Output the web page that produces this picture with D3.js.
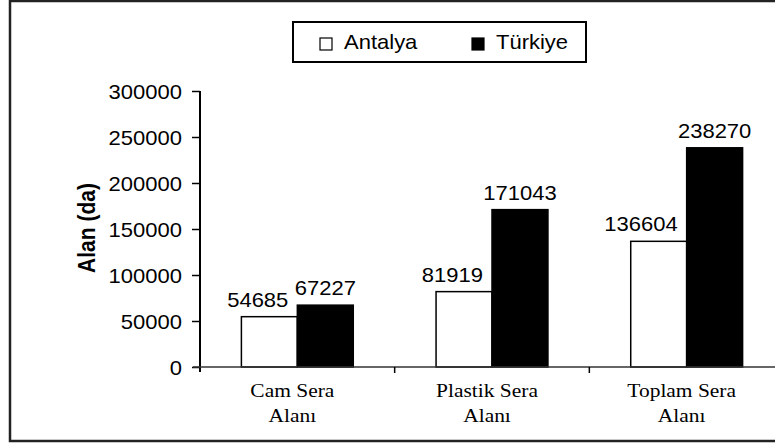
<!DOCTYPE html>
<html><head><meta charset="utf-8">
<script src="https://cdn.jsdelivr.net/npm/d3@7"></script>
<style>html,body{margin:0;padding:0;background:#fff;}svg{display:block;}</style>
</head><body>
<script>
const categories = [["Cam Sera","Alanı"],["Plastik Sera","Alanı"],["Toplam Sera","Alanı"]];
const seriesNames = ["Antalya","Türkiye"];
const antalya = [54685, 81919, 136604];
const turkiye = [67227, 171043, 238270];
const yTicks = [0, 50000, 100000, 150000, 200000, 250000, 300000];
const yTitle = "Alan (da)";

const W = 775, H = 446, SX = 1.1;
const svg = d3.select("body").append("svg").attr("width", W).attr("height", H);

// outer frame
svg.append("rect").attr("x", 10).attr("y", 1).attr("width", 820).attr("height", 440)
  .attr("fill", "#fff").attr("stroke", "#222").attr("stroke-width", 2.5);

const catKeys = categories.map(c => c.join(" "));
const x = d3.scaleBand().domain(catKeys).range([200, 784]).paddingInner(0).paddingOuter(0);
const bw = x.bandwidth();
const x1 = d3.scaleBand().domain(seriesNames).range([0, bw]).paddingInner(0).paddingOuter(0.74);
const y = d3.scaleLinear().domain([0, 300000]).range([367, 91]);

function stext(g, px, py, str, o = {}) {
  return g.append("text")
    .attr("transform", `translate(${px},${py}) scale(${SX},1)`)
    .attr("text-anchor", o.anchor || "start")
    .attr("font-family", o.family || "Arial, 'Liberation Sans', sans-serif")
    .attr("font-size", o.size || 20)
    .attr("font-weight", o.weight || "normal")
    .attr("fill", "#000")
    .text(str);
}

// bars
const data = catKeys.map((k, i) => ({ k, vals: [antalya[i], turkiye[i]] }));
const gBars = svg.append("g");
data.forEach(d => {
  d.vals.forEach((v, j) => {
    const s = seriesNames[j];
    gBars.append("rect")
      .attr("x", x(d.k) + x1(s)).attr("y", y(v))
      .attr("width", x1.bandwidth()).attr("height", y(0) - y(v))
      .attr("fill", j === 0 ? "#fff" : "#000")
      .attr("stroke", "#000").attr("stroke-width", 1.5);
  });
});

// y axis
const yAxis = svg.append("g").attr("transform", "translate(200,0)")
  .call(d3.axisLeft(y).tickValues(yTicks).tickSize(8).tickFormat(d3.format("d")));
yAxis.select(".domain").attr("stroke", "#000").attr("stroke-width", 2)
  .attr("d", `M0,${y(300000)}V${y(0) + 5}`);
yAxis.selectAll(".tick line").attr("stroke", "#000").attr("stroke-width", 1.5);
yAxis.selectAll(".tick text")
  .attr("x", -18 / SX).attr("dy", "0.35em")
  .attr("transform", `scale(${SX},1)`)
  .attr("font-family", "Arial, 'Liberation Sans', sans-serif")
  .attr("font-size", 20).attr("fill", "#000");

// x axis
svg.append("line").attr("x1", 193).attr("x2", 775).attr("y1", y(0)).attr("y2", y(0))
  .attr("stroke", "#333").attr("stroke-width", 1.5);
catKeys.forEach((k, i) => {
  if (i > 0) {
    svg.append("line").attr("x1", x(k)).attr("x2", x(k)).attr("y1", y(0)).attr("y2", y(0) + 6)
      .attr("stroke", "#000").attr("stroke-width", 1.5);
  }
  const cx = x(k) + bw / 2 - 5;
  categories[i].forEach((line, li) => {
    stext(svg, cx, 397 + li * 25, line, { anchor: "middle", family: "'Liberation Serif', 'Times New Roman', serif", size: 19.5 });
  });
});

// y title
svg.append("text")
  .attr("transform", `translate(95,228) scale(${SX},1) rotate(-90)`)
  .attr("text-anchor", "middle")
  .attr("font-family", "Arial, 'Liberation Sans', sans-serif")
  .attr("font-size", 21).attr("font-weight", "bold").text(yTitle);

// value labels
data.forEach(d => {
  const v0 = d.vals[0], v1 = d.vals[1];
  stext(svg, x(d.k) + x1(seriesNames[0]) + x1.bandwidth() - 9, y(v0) - 10, String(v0), { anchor: "end" });
  stext(svg, x(d.k) + x1(seriesNames[1]) + x1.bandwidth() / 2, y(v1) - 10, String(v1), { anchor: "middle" });
});

// legend
const lg = svg.append("g");
lg.append("rect").attr("x", 293).attr("y", 22).attr("width", 293).attr("height", 40)
  .attr("fill", "#fff").attr("stroke", "#000").attr("stroke-width", 2);
const legX = [320, 472];
seriesNames.forEach((s, i) => {
  lg.append("rect").attr("x", legX[i]).attr("y", 38).attr("width", 12).attr("height", 12)
    .attr("fill", i === 0 ? "#fff" : "#000").attr("stroke", "#000").attr("stroke-width", 1.2);
  stext(lg, legX[i] + 24, 49, s, {});
});
</script>
</body></html>
